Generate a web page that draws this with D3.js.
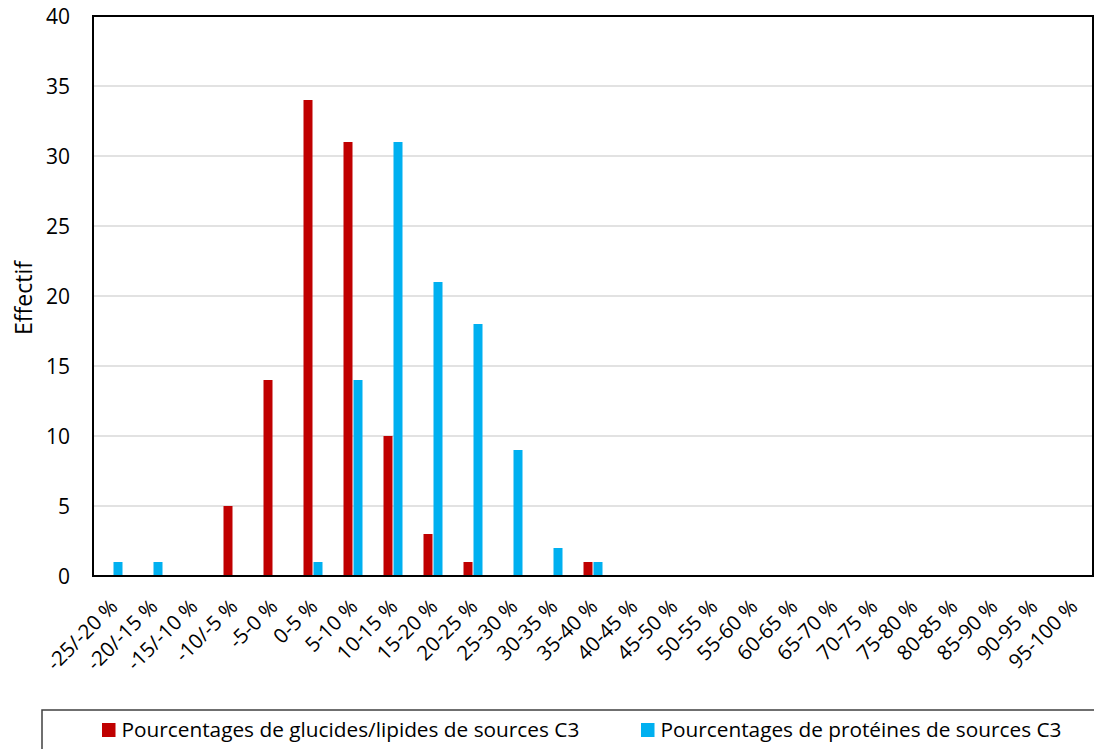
<!DOCTYPE html>
<html><head><meta charset="utf-8">
<script src="https://cdn.jsdelivr.net/npm/d3@7"></script>
<style>body{margin:0;background:#fff;} svg{display:block;} text{font-family:"Open Sans","Noto Sans",sans-serif;fill:#000;}</style>
</head><body>
<script>
const categories = ["-25/-20 %","-20/-15 %","-15/-10 %","-10/-5 %","-5-0 %","0-5 %","5-10 %","10-15 %","15-20 %","20-25 %","25-30 %","30-35 %","35-40 %","40-45 %","45-50 %","50-55 %","55-60 %","60-65 %","65-70 %","70-75 %","75-80 %","80-85 %","85-90 %","90-95 %","95-100 %"];
const glucidesLipides = [0,0,0,5,14,34,31,10,3,1,0,0,1,0,0,0,0,0,0,0,0,0,0,0,0];
const proteines = [1,1,0,0,0,1,14,31,21,18,9,2,1,0,0,0,0,0,0,0,0,0,0,0,0];
const seriesNames = ["Pourcentages de glucides/lipides de sources C3","Pourcentages de protéines de sources C3"];
const seriesColors = ["#c00000","#00b0f0"];
const yTicks = [0,5,10,15,20,25,30,35,40];

const W=1094,H=749;
const m={left:93,right:1093,top:16,bottom:576};
const svg=d3.select("body").append("svg").attr("width",W).attr("height",H);

const x=d3.scaleBand().domain(categories).range([m.left,m.right]).paddingInner(0).paddingOuter(0);
const sub=d3.scaleBand().domain([0,1]).range([-10,10]).padding(0);
const y=d3.scaleLinear().domain([0,40]).range([m.bottom,m.top]);

// gridlines
svg.append("g").selectAll("line").data(yTicks.filter(d=>d>0&&d<40)).join("line")
  .attr("x1",m.left).attr("x2",m.right).attr("y1",d=>y(d)).attr("y2",d=>y(d))
  .attr("stroke","#d9d9d9").attr("stroke-width",1.5);

// bars
const series=[glucidesLipides,proteines];
series.forEach((vals,si)=>{
  svg.append("g").selectAll("rect").data(vals.map((v,i)=>({c:categories[i],v}))).join("rect")
    .attr("x",d=>x(d.c)+x.bandwidth()/2+sub(si)+0.5)
    .attr("width",sub.bandwidth()-1)
    .attr("y",d=>y(d.v)).attr("height",d=>y(0)-y(d.v))
    .attr("fill",seriesColors[si]);
});

// frame
svg.append("rect").attr("x",m.left).attr("y",m.top).attr("width",m.right-m.left).attr("height",m.bottom-m.top)
  .attr("fill","none").attr("stroke","#000").attr("stroke-width",2);

// y axis labels
const yAxis=d3.axisLeft(y).tickValues(yTicks).tickSize(0).tickPadding(23);
const gy=svg.append("g").attr("transform",`translate(${m.left},0)`).call(yAxis);
gy.select(".domain").remove();
gy.selectAll("text").style("font-size","21px").attr("dy","0.35em");

// x axis labels
const gx=svg.append("g").attr("transform",`translate(0,${m.bottom})`);
gx.selectAll("text").data(categories).join("text")
  .attr("transform",d=>`translate(${x(d)+x.bandwidth()/2+1},${27}) rotate(-45)`)
  .attr("text-anchor","end").attr("dy","0.35em")
  .style("font-size","20.5px").text(d=>d);

// y title
svg.append("text").attr("transform","translate(32,298) rotate(-90)").attr("text-anchor","middle")
  .style("font-size","23px").text("Effectif");

// legend
svg.append("rect").attr("x",42).attr("y",710).attr("width",1070).attr("height",60)
  .attr("fill","none").attr("stroke","#404040").attr("stroke-width",1.5);
const legX=[102,641];
seriesNames.forEach((n,i)=>{
  svg.append("rect").attr("x",legX[i]).attr("y",723).attr("width",13.5).attr("height",14).attr("fill",seriesColors[i]);
  svg.append("text").attr("x",legX[i]+19.5).attr("y",737).style("font-size","20.8px").text(n);
});
</script>
</body></html>
